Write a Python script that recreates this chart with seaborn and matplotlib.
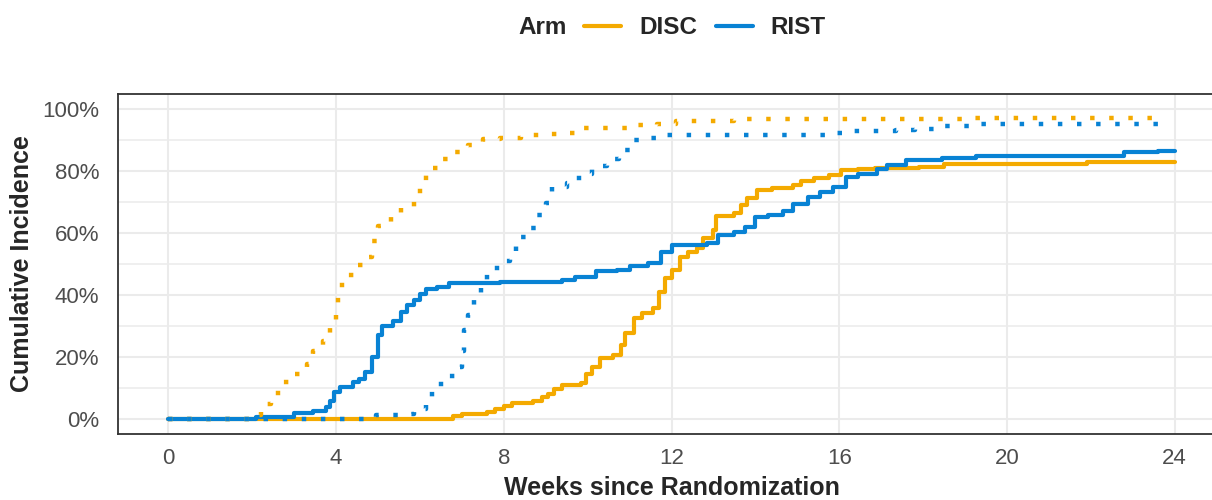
import numpy as np
import pandas as pd
import matplotlib
matplotlib.use("Agg")
import matplotlib.pyplot as plt
from matplotlib.lines import Line2D
from matplotlib.ticker import MultipleLocator, PercentFormatter
import seaborn as sns

# cumulative incidence curves (weeks since randomization, percent)
disc_solid_wk = [0, 6.8, 7.0, 7.6, 7.8, 8.0, 8.2, 8.7, 8.9, 9.05,
                 9.2, 9.4, 9.85, 9.95, 10.1, 10.3, 10.6, 10.8, 10.9, 11.1,
                 11.3, 11.55, 11.7, 11.85, 12.0, 12.2, 12.4, 12.6, 12.75, 13.0,
                 13.05, 13.5, 13.65, 13.8, 14.05, 14.4, 14.9, 15.1, 15.4, 15.75,
                 16.05, 16.45, 16.85, 17.9, 18.5, 21.9, 24.0]
disc_solid_pct = [0, 0.7, 1.5, 2.0, 3.1, 4.2, 5.0, 5.8, 6.9, 8.0,
                  9.6, 10.7, 11.4, 14.5, 16.8, 19.5, 20.7, 23.9, 27.7, 32.6,
                  34.1, 35.7, 41.1, 45.4, 48.1, 52.4, 54.0, 55.1, 58.3, 61.0,
                  65.4, 66.5, 69.2, 71.4, 74.1, 74.6, 75.5, 76.8, 77.9, 78.9,
                  80.3, 80.6, 80.9, 81.3, 82.4, 83.0, 83.0]

rist_solid_wk = [0, 2.1, 3.0, 3.45, 3.75, 3.85, 3.95, 4.1, 4.4, 4.55,
                 4.7, 4.85, 5.0, 5.1, 5.35, 5.55, 5.7, 5.85, 6.0, 6.15,
                 6.4, 6.7, 7.9, 9.4, 9.7, 10.2, 10.7, 11.0, 11.45, 11.75,
                 12.0, 12.4, 12.85, 13.1, 13.5, 13.75, 14.0, 14.3, 14.65, 14.9,
                 15.25, 15.55, 15.85, 16.15, 16.45, 16.9, 17.15, 17.6, 18.45, 19.25,
                 22.8, 23.6, 24.0]
rist_solid_pct = [0, 0.5, 1.7, 2.6, 3.7, 5.8, 8.5, 10.1, 11.8, 12.8,
                  15.0, 19.8, 26.9, 30.1, 31.7, 34.4, 36.6, 38.2, 40.4, 42.0,
                  42.7, 43.8, 44.3, 44.9, 45.7, 47.7, 48.1, 49.5, 50.3, 53.8,
                  56.0, 56.3, 56.7, 59.5, 60.3, 61.9, 65.1, 66.0, 67.3, 69.5,
                  71.6, 73.2, 74.9, 78.1, 79.2, 80.8, 81.9, 83.5, 84.4, 85.1,
                  86.2, 86.7, 86.7]

disc_dot_wk = [0, 2.0, 2.2, 2.45, 2.7, 3.0, 3.3, 3.45, 3.7, 3.85,
               4.0, 4.05, 4.15, 4.45, 4.7, 4.85, 5.0, 5.3, 5.55, 5.85,
               6.0, 6.15, 6.45, 6.8, 7.15, 7.5, 7.9, 8.4, 8.9, 9.35,
               9.7, 11.15, 11.65, 12.1, 13.5, 19.0, 23.8]
disc_dot_pct = [0, 1.0, 4.8, 8.3, 11.8, 14.5, 17.7, 22.0, 25.2, 30.0,
                35.3, 41.4, 46.3, 49.8, 52.4, 57.6, 62.2, 65.4, 68.6, 71.6,
                76.5, 81.0, 83.9, 86.2, 88.6, 90.4, 90.8, 91.8, 91.9, 92.5,
                94.0, 95.0, 95.4, 96.2, 96.8, 97.2, 97.2]

rist_dot_wk = [0, 4.95, 5.5, 5.85, 6.15, 6.3, 6.6, 6.85, 7.0, 7.05,
               7.15, 7.3, 7.45, 7.6, 7.85, 8.15, 8.3, 8.6, 8.8, 9.0,
               9.15, 9.5, 9.8, 10.1, 10.45, 10.75, 11.0, 11.45, 11.9, 15.85,
               16.35, 17.35, 17.8, 18.25, 18.7, 19.2, 23.8]
rist_dot_pct = [0, 1.0, 1.5, 3.1, 5.8, 11.2, 13.9, 16.8, 22.0, 28.7,
                33.6, 38.7, 43.4, 47.3, 51.1, 53.8, 58.7, 61.6, 65.7, 69.8,
                74.9, 76.3, 79.0, 81.6, 84.0, 87.0, 90.0, 90.7, 91.8, 92.3,
                93.0, 93.2, 93.7, 94.5, 94.8, 95.4, 96.0]

arms = ["DISC", "RIST"]
colors = {"DISC": "#F4AA00", "RIST": "#0882D4"}

# long table, in drawing order
curves = [
    ("DISC", "solid", disc_solid_wk, disc_solid_pct),
    ("RIST", "solid", rist_solid_wk, rist_solid_pct),
    ("DISC", "dotted", disc_dot_wk, disc_dot_pct),
    ("RIST", "dotted", rist_dot_wk, rist_dot_pct),
]
frames = []
for arm, kind, wk, pct in curves:
    frames.append(pd.DataFrame({"week": wk, "pct": pct, "arm": arm, "kind": kind}))
df = pd.concat(frames, ignore_index=True)

sns.set_style("white")
plt.rcParams["font.family"] = ["Liberation Sans", "DejaVu Sans"]

fig = plt.figure(figsize=(12.12, 5.0), dpi=100)
# panel runs past the right edge (the source image is cropped there)
ax = fig.add_axes([118 / 1212, 66 / 500, 1107 / 1212, 340 / 500])

for arm, kind, wk, pct in curves:
    sub = df[(df["arm"] == arm) & (df["kind"] == kind)]
    if kind == "solid":
        ls, lw = "-", 3.0
    else:
        ls, lw = (0, (1, 3.3)), 3.2
    sns.lineplot(data=sub, x="week", y="pct", ax=ax, color=colors[arm],
                 linewidth=lw, linestyle=ls, drawstyle="steps-post",
                 estimator=None, sort=False, legend=False)

ax.set_xlim(-1.2, 25.2)
ax.set_ylim(-5, 105)
ax.set_xticks(range(0, 25, 4))
ax.set_yticks(range(0, 101, 20))
ax.yaxis.set_minor_locator(MultipleLocator(10))
ax.yaxis.set_major_formatter(PercentFormatter(decimals=0))

ax.grid(which="major", color="#EBEBEB", linewidth=1.5)
ax.grid(which="minor", axis="y", color="#EBEBEB", linewidth=1.1)
ax.set_axisbelow(True)
for s in ax.spines.values():
    s.set_color("#333333")
    s.set_linewidth(1.3)
ax.tick_params(which="major", length=6, width=1.3, color="#333333",
               labelsize=16, labelcolor="#4D4D4D")
ax.tick_params(axis="y", pad=7.5)
ax.tick_params(axis="x", pad=4)
ax.tick_params(which="minor", length=0)

ax.set_xlabel("Weeks since Randomization", fontsize=18, fontweight="bold", labelpad=5)
ax.set_ylabel("Cumulative Incidence", fontsize=18, fontweight="bold", labelpad=6)

# legend across the top
fig.text(542.5 / 1212, 1 - 28 / 500, "Arm", fontsize=17.5, fontweight="bold",
         ha="center", va="center")
handles = [Line2D([], [], color=colors[a], linewidth=3.0) for a in arms]
fig.legend(handles, arms, loc="center", bbox_to_anchor=(705 / 1212, 1 - 28 / 500),
           ncol=2, frameon=False, handlelength=1.52, handletextpad=0.74,
           columnspacing=0.78, prop={"size": 17.5, "weight": "bold"})

fig.savefig("out.png", dpi=100)
